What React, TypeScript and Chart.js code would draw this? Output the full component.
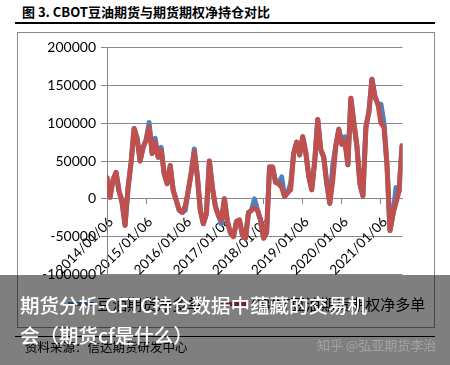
import React, { useEffect, useRef } from "react";
import { Chart, registerables } from "chart.js";

Chart.register(...registerables);

// ---- data ----
const TITLE = "图 3. CBOT豆油期货与期货期权净持仓对比";
const SERIES_LABELS = ["豆油期货净多单", "CBOT豆油期货期权净多单"];
const SERIES_COLORS = ["#4F81BD", "#C0504D"];
const START_YEAR = 2014; // 2014/01/06
const STEP_YEARS = 4 / 52; // one sample every 4 weeks
const X_END = 2021.55;
const X_TICK_YEARS = [2014, 2015, 2016, 2017, 2018, 2019, 2020, 2021];
const X_TICK_LABELS = [
  "2014/01/06",
  "2015/01/06",
  "2016/01/06",
  "2017/01/06",
  "2018/01/06",
  "2019/01/06",
  "2020/01/06",
  "2021/01/06",
];
const Y_TICKS = [-100000, -50000, 0, 50000, 100000, 150000, 200000];

// 豆油期货净多单 (blue)
const FUTURES_NET = [
  28000, 2000, 25000, 35000, 10000, -6000, -35000, 15000, 48000, 93000,
  80000, 50000, 68000, 78000, 101000, 60000, 80000, 55000, 68000, 33000,
  20000, 44000, 11000, -2000, -15000, -18000, -15000, 11000, 35000, 66000,
  30000, -15000, -33000, -20000, 50000, 15000, -10000, -22000, -33000, 0,
  -30000, -45000, -50000, -30000, -28000, -48000, -52000, -18000, -15000, 0,
  -15000, -28000, -52000, -45000, 42000, 42000, 22000, 20000, 29000, 3000,
  8000, 20000, 60000, 75000, 58000, 82000, 62000, 30000, 12000, 50000,
  105000, 65000, 55000, 20000, -6000, 45000, 70000, 92000, 72000, 82000,
  45000, 133000, 100000, 70000, 20000, 4000, 95000, 115000, 158000, 135000,
  125000, 125000, 100000, 45000, -42000, -20000, 15000, 10000, 70000,
];

// CBOT豆油期货期权净多单 (red)
const OPTIONS_NET = [
  28000, 2000, 25000, 35000, 10000, -2000, -35000, 15000, 48000, 93000,
  80000, 50000, 68000, 78000, 95000, 60000, 75000, 55000, 64000, 33000,
  20000, 44000, 11000, -2000, -15000, -18000, -9000, 11000, 35000, 62000,
  30000, -15000, -33000, -20000, 50000, 15000, -10000, -22000, -28000, 0,
  -30000, -45000, -50000, -30000, -28000, -48000, -52000, -18000, -15000, -12000,
  -15000, -28000, -52000, -45000, 42000, 42000, 22000, 20000, 15000, 3000,
  8000, 12000, 60000, 75000, 58000, 82000, 62000, 30000, 12000, 50000,
  105000, 65000, 55000, 20000, -6000, 25000, 70000, 92000, 72000, 75000,
  45000, 133000, 100000, 70000, 20000, 4000, 95000, 115000, 158000, 135000,
  125000, 100000, 95000, 45000, -42000, -20000, -5000, 10000, 70000,
];

const OVERLAY_TITLE = "期货分析-CFTC持仓数据中蕴藏的交易机会（期货cf是什么）";
const SOURCE = "资料来源：信达期货研发中心";
const WATERMARK = "知乎 @弘亚期货李治";

const CJK = '"Noto Sans CJK SC", "Noto Sans", sans-serif';
const GRID = "#868686";

function toPoints(values: number[]) {
  return values.map((v, i) => ({ x: START_YEAR + i * STEP_YEARS, y: v }));
}

function LineChart() {
  const ref = useRef<HTMLCanvasElement | null>(null);
  useEffect(() => {
    if (!ref.current) return;
    const series = [FUTURES_NET, OPTIONS_NET];
    const chart = new Chart(ref.current, {
      type: "line",
      data: {
        datasets: series.map((vals, k) => ({
          label: SERIES_LABELS[k],
          data: toPoints(vals),
          borderColor: SERIES_COLORS[k],
          backgroundColor: SERIES_COLORS[k],
          borderWidth: 5,
          pointRadius: 0,
          tension: 0,
          fill: false,
          borderJoinStyle: "round",
          borderCapStyle: "round",
          order: k === 0 ? 2 : 1,
        })),
      },
      options: {
        animation: false,
        responsive: true,
        maintainAspectRatio: false,
        events: [],
        layout: { padding: { left: 0, top: 15.5, right: 31.5, bottom: 52.5 } },
        plugins: { legend: { display: false }, tooltip: { enabled: false }, title: { display: false } },
        scales: {
          x: {
            type: "linear",
            position: { y: 0 } as any,
            min: START_YEAR,
            max: X_END,
            afterBuildTicks: (s: any) => {
              s.ticks = X_TICK_YEARS.map((v) => ({ value: v }));
            },
            ticks: {
              autoSkip: false,
              minRotation: 45,
              maxRotation: 45,
              color: "#000",
              padding: 10,
              labelOffset: 4,
              font: { family: "Lato", size: 13.5 },
              callback: (v: any) => {
                const idx = X_TICK_YEARS.indexOf(Number(v));
                return idx >= 0 ? X_TICK_LABELS[idx] : "";
              },
            },
            grid: { drawOnChartArea: false, drawTicks: true, tickLength: 5, color: GRID },
            border: { display: true, color: GRID },
          },
          y: {
            type: "linear",
            min: Y_TICKS[0],
            max: Y_TICKS[Y_TICKS.length - 1],
            afterBuildTicks: (s: any) => {
              s.ticks = Y_TICKS.map((v) => ({ value: v }));
            },
            afterFit: (s: any) => {
              s.width = 90;
            },
            ticks: {
              color: "#000",
              padding: 5,
              font: { family: "Lato", size: 14 },
              callback: (v: any) => String(v),
            },
            grid: { color: GRID, tickLength: 6 },
            border: { display: true, color: GRID },
          },
        },
      },
    });
    return () => chart.destroy();
  }, []);
  return <canvas ref={ref} />;
}

export default function App() {
  return (
    <div
      style={{
        position: "fixed",
        left: 0,
        top: 0,
        width: 450,
        height: 365,
        background: "#fff",
        overflow: "hidden",
        fontFamily: CJK,
      }}
    >
      <div
        style={{
          position: "absolute",
          left: 22,
          top: 3,
          fontSize: 13,
          fontWeight: 700,
          lineHeight: "18px",
          color: "#000",
          whiteSpace: "nowrap",
        }}
      >
        {TITLE}
      </div>
      <div style={{ position: "absolute", left: 15, top: 22, width: 420, height: 1.5, background: "#000" }} />
      <div
        style={{
          position: "absolute",
          left: 17,
          top: 32,
          width: 416,
          height: 294,
          border: "1px solid #8a8a8a",
        }}
      />
      <div style={{ position: "absolute", left: 17, top: 32, width: 417, height: 295 }}>
        <LineChart />
      </div>
      {/* legend */}
      <div style={{ position: "absolute", left: 68, top: 302, width: 26, height: 4, background: SERIES_COLORS[0] }} />
      <div
        style={{ position: "absolute", left: 97, top: 294, fontSize: 15, lineHeight: "20px", color: "#000", whiteSpace: "nowrap" }}
      >
        {SERIES_LABELS[0]}
      </div>
      <div style={{ position: "absolute", left: 218, top: 302, width: 28, height: 4, background: SERIES_COLORS[1] }} />
      <div
        style={{ position: "absolute", left: 251, top: 294, fontSize: 15, lineHeight: "20px", color: "#000", whiteSpace: "nowrap" }}
      >
        {SERIES_LABELS[1]}
      </div>
      <div style={{ position: "absolute", left: 15, top: 335.5, width: 420, height: 1.5, background: "#000" }} />
      <div
        style={{ position: "absolute", left: 25, top: 339, fontSize: 12.5, lineHeight: "16px", color: "#000", whiteSpace: "nowrap" }}
      >
        {SOURCE}
      </div>
      {/* overlay */}
      <div style={{ position: "absolute", left: 0, top: 275, width: 450, height: 90, background: "rgba(0,0,0,0.5)" }} />
      <div
        style={{
          position: "absolute",
          left: 20,
          top: 290,
          width: 355,
          fontSize: 19.5,
          lineHeight: "30px",
          fontWeight: 500,
          color: "#fff",
        }}
      >
        {OVERLAY_TITLE}
      </div>
      <div
        style={{
          position: "absolute",
          left: 317,
          top: 337,
          fontSize: 13,
          lineHeight: "16px",
          color: "rgba(255,255,255,0.27)",
          whiteSpace: "nowrap",
        }}
      >
        {WATERMARK}
      </div>
    </div>
  );
}
